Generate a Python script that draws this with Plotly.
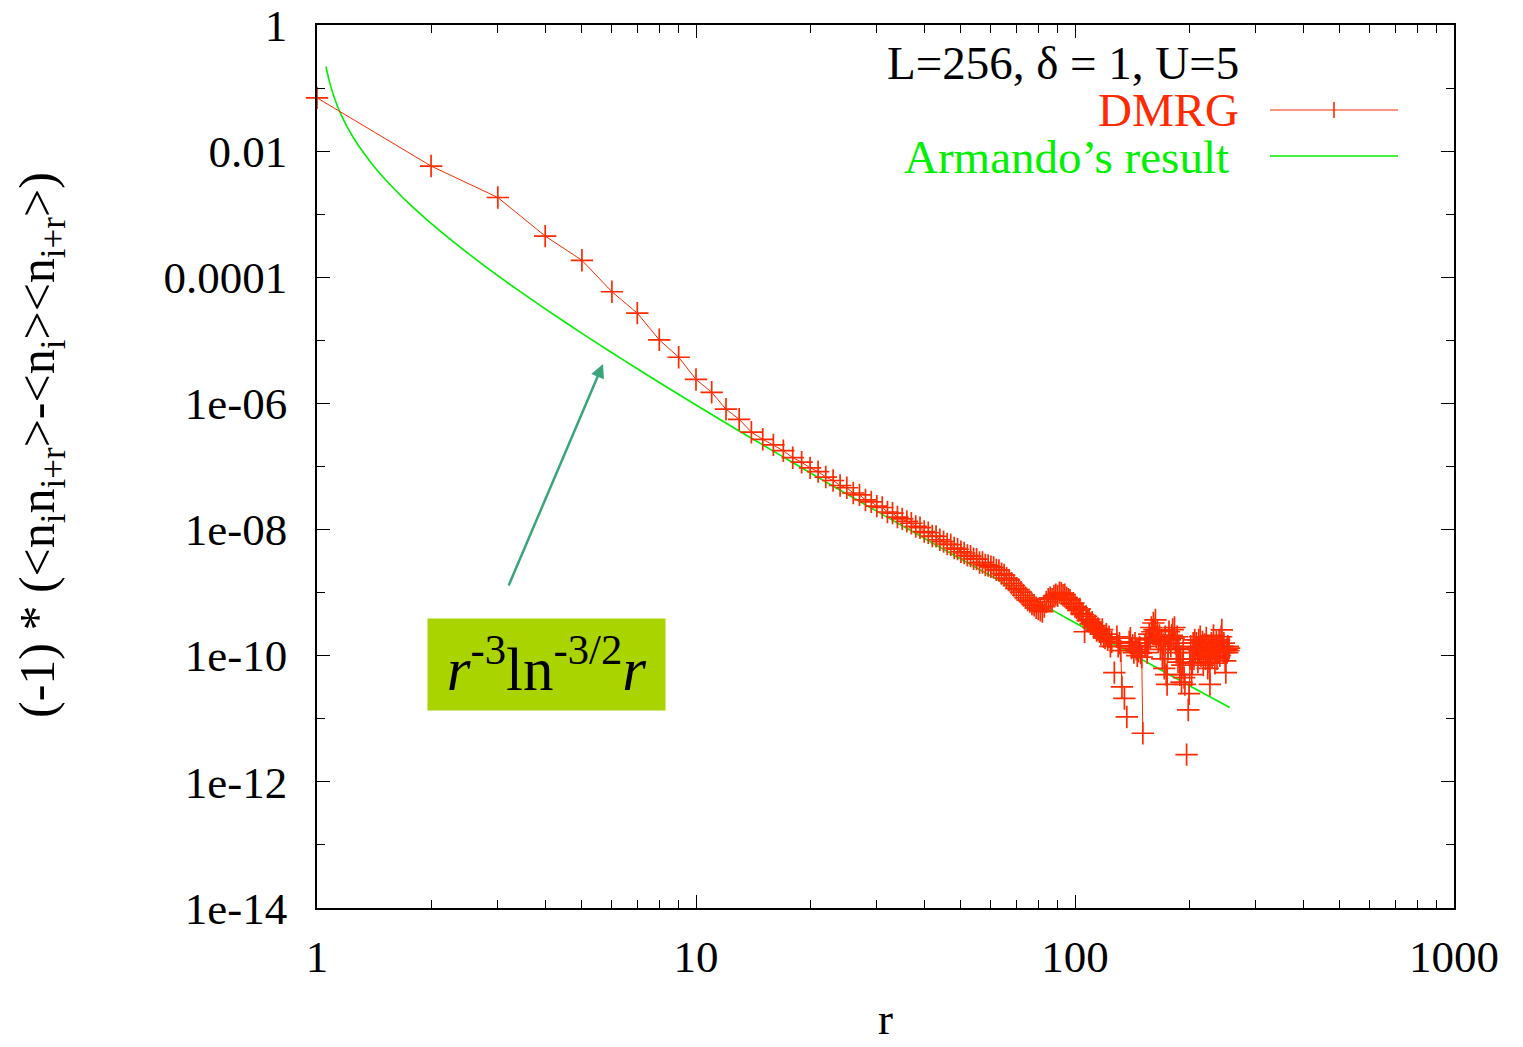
import plotly.graph_objects as go

# separation r (lattice distance)
r_dmrg = list(range(1, 256))

# (-1)^r * density-density correlation from DMRG; None = negative (not shown on log scale)
c_dmrg = [
    7.0e-2, 5.8e-3, 1.84e-3, 4.5e-4, 1.86e-4, 5.9e-5, 2.7e-5, 1.02e-5, 5.4e-6, 2.4e-6,
    1.5e-6, 8.1e-7, 5.6e-7, 3.5e-7, 2.7e-7, 2.2e-7, 1.78e-7, 1.38e-7, 1.17e-7, 9.5e-8,
    8.3e-8, 6.8e-8, 6.0e-8, 5.0e-8, 4.6e-8, 3.8e-8, 3.55e-8, 2.95e-8, 2.75e-8, 2.35e-8,
    2.24e-8, 1.9e-8, 1.82e-8, 1.58e-8, 1.48e-8, 1.35e-8, 1.26e-8, 1.12e-8, 1.07e-8, 9.3e-9,
    8.9e-9, 7.9e-9, 7.8e-9, 6.9e-9, 6.45e-9, 5.9e-9, 5.75e-9, 5.1e-9, 4.9e-9, 4.45e-9,
    4.25e-9, 3.9e-9, 3.8e-9, 3.45e-9, 3.4e-9, 3.0e-9, 3.0e-9, 2.75e-9, 2.7e-9, 2.57e-9,
    2.5e-9, 2.3e-9, 2.25e-9, 2.0e-9, 1.9e-9, 1.7e-9, 1.58e-9, 1.41e-9, 1.29e-9, 1.17e-9,
    1.12e-9, 1.02e-9, 9.1e-10, 8.3e-10, 7.6e-10, 7.2e-10, 6.6e-10, 6.3e-10, 5.75e-10, 5.5e-10,
    5.25e-10, 5.0e-10, 6.0e-10, 7.1e-10, 7.9e-10, 8.3e-10, 7.9e-10, 8.9e-10, 9.3e-10, 8.9e-10,
    1.0e-9, 9.8e-10, 9.1e-10, 9.3e-10, 8.3e-10, 7.9e-10, 7.6e-10, 6.6e-10, 6.8e-10, 6.0e-10,
    5.75e-10, 5.25e-10, 5.5e-10, 4.7e-10, 4.5e-10, 2.4e-10, 4.2e-10, 3.6e-10, 3.8e-10, 3.2e-10,
    3.4e-10, 2.8e-10, 3.0e-10, 2.5e-10, 2.7e-10, 2.4e-10, 2.2e-10, 2.6e-10, 2.0e-10, 1.9e-10,
    2.2e-10, 1.78e-10, 2.0e-10, 1.41e-10, 1.66e-10, None, 5.4e-11, None, 2.0e-10, 1.41e-10,
    1.58e-10, 1.2e-10, 3.2e-11, None, 2.1e-11, None, 1.07e-11, None, 1.66e-10, 1.9e-10,
    1.32e-10, 1.45e-10, 1.12e-10, 1.58e-10, 1.26e-10, 1.0e-10, 1.17e-10, 1.38e-10, 1.1e-10, 9.5e-11,
    5.9e-12, None, 1.41e-10, 1.78e-10, 1.12e-10, 1.58e-10, 2.2e-10, 1.9e-10, 2.8e-10, 2.4e-10,
    3.3e-10, 2.6e-10, 3.7e-10, 2.0e-10, 2.5e-10, 1.66e-10, 2.1e-10, 1.26e-10, 1.78e-10, 8.9e-11,
    1.51e-10, 6.3e-11, 2.0e-10, 5.0e-11, 3.5e-11, 1.26e-10, 2.4e-10, 1.78e-10, 1.41e-10, 2.1e-10,
    2.6e-10, 1.9e-10, 2.8e-10, 1.58e-10, 1.12e-10, 2.0e-10, 7.9e-11, 1.32e-10, 5.0e-11, 8.9e-11,
    3.8e-11, 7.1e-11, 1.26e-10, 4.5e-11, 3.5e-11, None, 2.7e-12, None, 1.38e-11, 2.5e-11,
    8.9e-11, 1.41e-10, 5.0e-11, 7.6e-11, 1.58e-10, 8.9e-11, 1.78e-10, 1.12e-10, 1.58e-10, 1.32e-10,
    7.9e-11, 1.78e-10, 1.2e-10, 2.0e-10, 1.0e-10, 1.41e-10, 1.66e-10, 7.1e-11, 1.26e-10, 1.51e-10,
    8.9e-11, 1.91e-10, 1.12e-10, 6.3e-11, 1.32e-10, 7.9e-11, 3.5e-11, 1.2e-10, 1.58e-10, 9.5e-11,
    1.38e-10, 2.1e-10, 1.12e-10, 7.6e-11, 1.26e-10, 1.66e-10, 8.9e-11, 1.41e-10, 1.2e-10, 1.78e-10,
    1.0e-10, 1.32e-10, 2.0e-10, 2.57e-10, 1.41e-10, 1.12e-10, 1.58e-10, 1.2e-10, 8.3e-11, 5.4e-11,
    1.26e-10, 1.12e-10, 1.41e-10, 1.2e-10, 1.32e-10,
]

# analytic curve r^-3 ln^-3/2 r
r_theory = [1.056, 1.06, 1.08, 1.1, 1.13, 1.15, 1.2, 1.25, 1.3, 1.4, 1.5, 1.65, 1.75, 2, 2.5,
            3, 3.5, 4, 5, 6, 7, 8, 10, 13, 16, 20, 25, 32, 40, 50, 65, 80, 100, 130, 160,
            200, 256]
c_theory = [0.22, 0.197, 0.123, 0.0843, 0.0535, 0.0415, 0.0245, 0.016, 0.0112, 6.16e-3,
            3.79e-3, 2.07e-3, 1.47e-3, 7.15e-4, 2.41e-4, 1.06e-4, 5.49e-5, 3.16e-5, 1.29e-5,
            6.37e-6, 3.54e-6, 2.15e-6, 9.45e-7, 3.66e-7, 1.75e-7, 7.96e-8, 3.66e-8, 1.56e-8,
            7.28e-9, 3.41e-9, 1.41e-9, 7.03e-10, 3.34e-10, 1.40e-10, 7.05e-11, 3.38e-11,
            1.51e-11]

x_ticks = [1, 10, 100, 1000]
x_ticktext = ["1", "10", "100", "1000"]
x_minor = [m * d for d in (1, 10, 100) for m in range(2, 10)]
y_ticks = [1, 1e-2, 1e-4, 1e-6, 1e-8, 1e-10, 1e-12, 1e-14]
y_ticktext = ["1", "0.01", "0.0001", "1e-06", "1e-08", "1e-10", "1e-12", "1e-14"]
y_minor = [1e-1, 1e-3, 1e-5, 1e-7, 1e-9, 1e-11, 1e-13]

RED = "#ff2a00"
GREEN = "#00f000"
FONT = "Liberation Serif"

fig = go.Figure()
fig.add_trace(go.Scatter(
    x=r_theory, y=c_theory, mode="lines", name="Armando's result",
    line=dict(color=GREEN, width=1.6, shape="spline", smoothing=0.6),
    showlegend=False,
))
fig.add_trace(go.Scatter(
    x=r_dmrg, y=c_dmrg, mode="lines+markers", name="DMRG",
    line=dict(color=RED, width=1),
    marker=dict(symbol="cross-thin", size=16, line=dict(color=RED, width=1.7)),
    connectgaps=False, cliponaxis=False, showlegend=False,
))

axis_common = dict(
    showline=True, linecolor="black", linewidth=1.5, mirror="allticks",
    ticks="inside", ticklen=13, tickwidth=1.2, tickcolor="black",
    showgrid=False, zeroline=False, automargin=False,
    tickfont=dict(family=FONT, size=45, color="black"),
)
fig.update_xaxes(
    type="log", range=[0, 3], tickmode="array", tickvals=x_ticks, ticktext=x_ticktext,
    minor=dict(tickmode="array", tickvals=x_minor, ticks="inside", ticklen=8,
               tickwidth=1.2, tickcolor="black", showgrid=False),
    ticklabelstandoff=8, **axis_common,
)
fig.update_yaxes(
    type="log", range=[-14, 0], tickmode="array", tickvals=y_ticks, ticktext=y_ticktext,
    minor=dict(tickmode="array", tickvals=y_minor, ticks="inside", ticklen=8,
               tickwidth=1.2, tickcolor="black", showgrid=False),
    ticklabelstandoff=19, **axis_common,
)

W, H = 1523, 1047
L, R, T, B = 317, 69, 25, 139
pw, ph = W - L - R, H - T - B


def px(x):
    return (x - L) / pw


def py(y):
    return (H - B - y) / ph


def label(text, x, y, size, color="black", xanchor="center", yanchor="middle", **kw):
    return dict(text=text, x=px(x), y=py(y), xref="paper", yref="paper",
                xanchor=xanchor, yanchor=yanchor, showarrow=False,
                font=dict(family=FONT, size=size, color=color), **kw)


annotations = [
    # axis titles
    label("r", 885, 1046, 45, yanchor="bottom"),
    label("(-1) * (&lt;n<sub>i</sub>n<sub>i+r</sub>&gt;-&lt;n<sub>i</sub>&gt;&lt;n<sub>i+r</sub>&gt;)",
          41, 445, 50, textangle=-90),
    # key
    label("L=256, δ = 1, U=5", 1241, 63, 47, xanchor="right"),
    label("DMRG", 1241, 110, 47, color=RED, xanchor="right"),
    label("Armando’s result", 1231, 157, 47, color=GREEN, xanchor="right"),
    # formula label and pointer
    label("<i>r</i><sup>-3</sup>ln<sup>-3/2</sup><i>r</i>", 546.5, 664.5, 61,
          bgcolor="#aad400", width=237, height=91, borderpad=0),
    dict(text="", x=px(603), y=py(364), xref="paper", yref="paper", showarrow=True,
         ax=508 - 603, ay=587 - 364, arrowcolor="#3aa57a", arrowwidth=2.5,
         arrowhead=2, arrowsize=1.1),
]

shapes = [
    dict(type="line", xref="paper", yref="paper", x0=px(1270), x1=px(1398),
         y0=py(110), y1=py(110), line=dict(color=RED, width=1.2)),
    dict(type="line", xref="paper", yref="paper", x0=px(1334), x1=px(1334),
         y0=py(102), y1=py(118), line=dict(color=RED, width=1.6)),
    dict(type="line", xref="paper", yref="paper", x0=px(1270), x1=px(1398),
         y0=py(156), y1=py(156), line=dict(color=GREEN, width=1.6)),
]

fig.update_layout(
    width=W, height=H, margin=dict(l=L, r=R, t=T, b=B, pad=0, autoexpand=False),
    paper_bgcolor="white", plot_bgcolor="white",
    annotations=annotations, shapes=shapes, showlegend=False,
)

fig.write_html("out.html")
